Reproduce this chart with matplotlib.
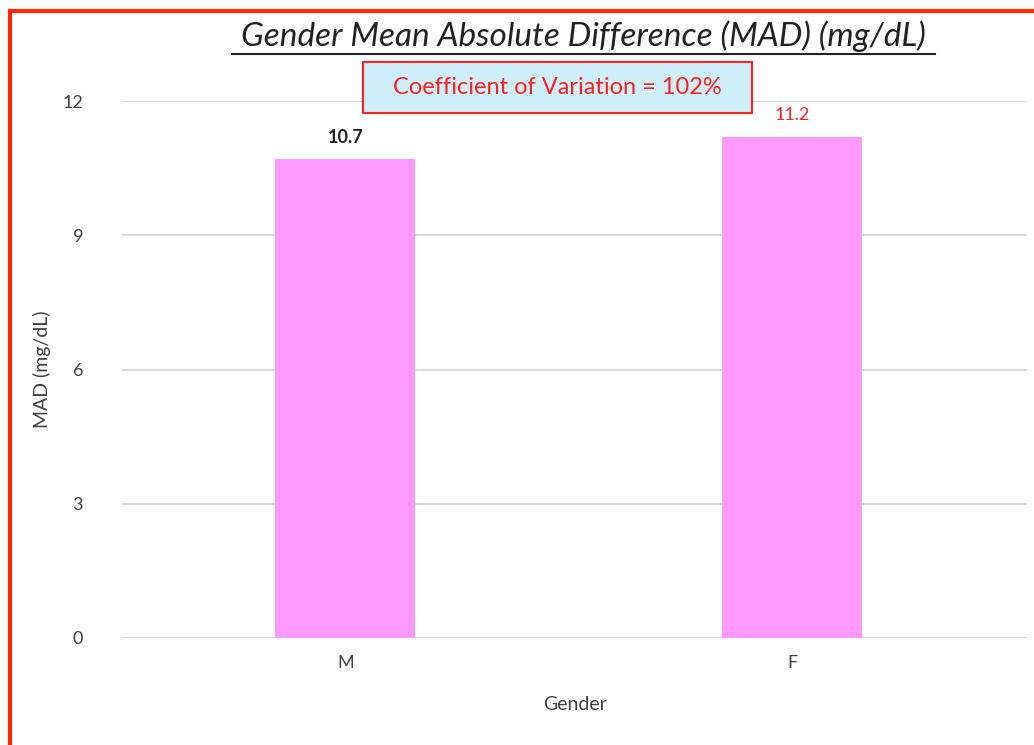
import matplotlib.pyplot as plt
from matplotlib.patches import Rectangle

plt.rcParams['font.family'] = ['Lato', 'DejaVu Sans']

genders = ["M", "F"]
mad = [10.7, 11.2]
label_colors = ["#222222", "#ff2020"]

fig = plt.figure(figsize=(10.34, 7.45), dpi=100)
ax = fig.add_axes([122 / 1034, 1 - 638 / 745, 905 / 1034, 537 / 745])

x = range(len(genders))
ax.bar(x, mad, width=0.313, color="#ff99ff", zorder=2)
for i, v in enumerate(mad):
    ax.text(i, v + 0.3, f"{v}", ha="center", va="bottom", fontsize=13,
            color=label_colors[i], fontweight="bold" if i == 0 else "normal")

ax.set_xlim(-0.5, 1.526)
ax.set_ylim(0, 12)
ax.set_yticks([0, 3, 6, 9, 12])
ax.set_xticks(list(x))
ax.set_xticklabels(genders)
ax.yaxis.grid(True, color="#d9d9d9", linewidth=1.5, zorder=0)
ax.set_axisbelow(True)
for s in ax.spines.values():
    s.set_visible(False)
ax.tick_params(length=0, labelsize=13, colors="#404040", pad=12)
ax.tick_params(axis="y", pad=28)
ax.set_xlabel("Gender", fontsize=14, color="#404040", labelpad=18)
ax.set_ylabel("MAD (mg/dL)", fontsize=14, color="#404040", labelpad=8)

fig.text(583 / 1034, 1 - 36 / 745, "Gender Mean Absolute Difference (MAD) (mg/dL)",
         ha="center", va="center", fontsize=24, style="italic", color="#222222")
fig.add_artist(plt.Line2D([232 / 1034, 935 / 1034], [1 - 54 / 745, 1 - 54 / 745],
                          color="#222222", linewidth=1.5))

fig.add_artist(Rectangle((363 / 1034, 1 - 113 / 745), 389 / 1034, 51 / 745,
                         transform=fig.transFigure, facecolor="#cdeefa",
                         edgecolor="#ff2020", linewidth=1.5))
fig.text(557 / 1034, 1 - 87 / 745, "Coefficient of Variation = 102%",
         ha="center", va="center", fontsize=17, color="#ff2020")

fig.add_artist(Rectangle((10 / 1034, -0.05), 1.1, 1 - 11 / 745 + 0.05, transform=fig.transFigure,
                         fill=False, edgecolor="#ff2a00", linewidth=3))

fig.savefig("out.png", dpi=100)
